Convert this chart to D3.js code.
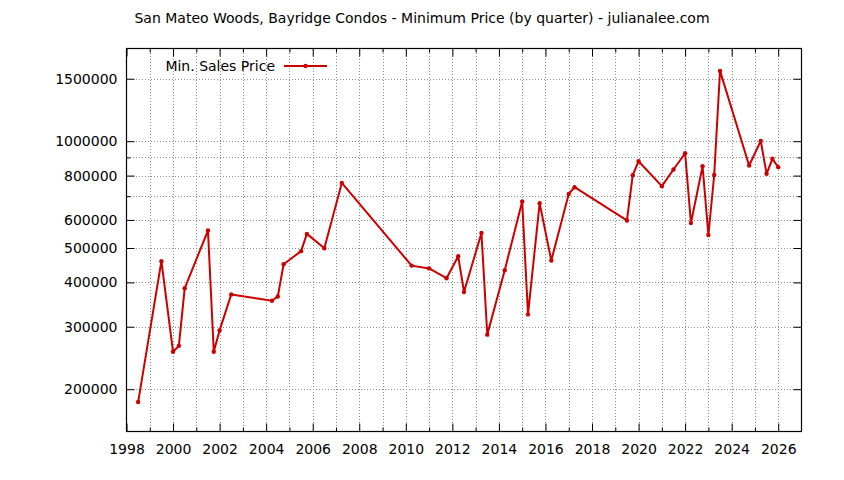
<!DOCTYPE html>
<html>
<head>
<meta charset="utf-8">
<script src="https://cdn.jsdelivr.net/npm/d3@7/dist/d3.min.js"></script>
<style>
  body { margin: 0; background: #fff; }
  text { font-family: "DejaVu Sans", sans-serif; fill: #000; }
</style>
</head>
<body>
<div id="chart"></div>
<script>
// quarter positions (decimal year) and the minimum sale price in that quarter
var quarters = [
  1998.5, 1999.5, 2000.0, 2000.25, 2000.5, 2001.5, 2001.75, 2002.0, 2002.5,
  2004.25, 2004.5, 2004.75, 2005.5, 2005.75, 2006.5, 2007.25,
  2010.25, 2011.0, 2011.75, 2012.25, 2012.5, 2013.25, 2013.5, 2014.25,
  2015.0, 2015.25, 2015.75, 2016.25, 2017.0, 2017.25,
  2019.5, 2019.75, 2020.0, 2021.0, 2021.5, 2022.0, 2022.25, 2022.75,
  2023.0, 2023.25, 2023.5, 2024.75, 2025.25, 2025.5, 2025.75, 2026.0
];
var minPrice = [
  184000, 459000, 255000, 265000, 385000, 560000, 255000, 293000, 370000,
  355000, 365000, 450000, 490000, 548000, 499000, 763000,
  446000, 438000, 411000, 474000, 376000, 551000, 285000, 433000,
  676000, 325000, 669000, 461000, 710000, 742000,
  598000, 802000, 878000, 747000, 832000, 925000, 588000, 850000,
  544000, 803000, 1578000, 854000, 1002000, 809000, 892000, 845000
];

var xLabelYears = [1998, 2000, 2002, 2004, 2006, 2008, 2010, 2012, 2014, 2016, 2018, 2020, 2022, 2024, 2026];
var xMinorYears = [1999, 2001, 2003, 2005, 2007, 2009, 2011, 2013, 2015, 2017, 2019, 2021, 2023, 2025];
var yLabelValues = [200000, 300000, 400000, 500000, 600000, 800000, 1000000, 1500000];
var yMinorValues = [700000, 900000];

var titleText = 'San Mateo Woods, Bayridge Condos - Minimum Price (by quarter) - julianalee.com';
var seriesName = 'Min. Sales Price';

var width = 844, height = 480;
var margin = { top: 48.5, right: 42.5, bottom: 48.5, left: 126.5 };
var red = '#cc0000';
var fontSize = '14px';

var svg = d3.select('#chart').append('svg')
  .attr('width', width)
  .attr('height', height)
  .style('display', 'block');

svg.append('rect').attr('width', width).attr('height', height).attr('fill', '#fff');

var x = d3.scaleLinear()
  .domain([1998, 2027])
  .range([margin.left, width - margin.right]);
var y = d3.scaleLog()
  .domain([152000, 1825000])
  .range([height - margin.bottom, margin.top]);

var x0 = margin.left, x1 = width - margin.right;
var y0 = height - margin.bottom, y1 = margin.top;

// grid
var grid = svg.append('g')
  .attr('stroke', '#8a8a8a')
  .attr('stroke-width', 1)
  .attr('stroke-dasharray', '1,2')
  .attr('shape-rendering', 'crispEdges');
grid.selectAll('.vgrid')
  .data(xLabelYears.concat(xMinorYears).filter(function (d) { return d > 1998; }))
  .enter().append('line')
  .attr('x1', function (d) { return Math.round(x(d)) + 0.5; })
  .attr('x2', function (d) { return Math.round(x(d)) + 0.5; })
  .attr('y1', y0)
  .attr('y2', y1);
grid.selectAll('.hgrid')
  .data(yLabelValues.concat(yMinorValues))
  .enter().append('line')
  .attr('y1', function (d) { return Math.round(y(d)) + 0.5; })
  .attr('y2', function (d) { return Math.round(y(d)) + 0.5; })
  .attr('x1', x0)
  .attr('x2', x1);

// axes, ticks pointing inward like gnuplot
function styleAxis(g) {
  g.select('.domain').remove();
  g.selectAll('.tick line').attr('stroke', '#000');
  g.selectAll('.tick text')
    .style('font-size', fontSize)
    .style('font-family', '"DejaVu Sans", sans-serif')
    .attr('fill', '#000');
}

svg.append('g')
  .attr('transform', 'translate(0,' + y0 + ')')
  .call(d3.axisBottom(x).tickValues(xLabelYears).tickFormat(d3.format('d'))
    .tickSizeInner(-8).tickSizeOuter(0).tickPadding(13))
  .call(styleAxis);
svg.append('g')
  .attr('transform', 'translate(0,' + y0 + ')')
  .call(d3.axisBottom(x).tickValues(xMinorYears).tickFormat('').tickSizeInner(-4).tickSizeOuter(0))
  .call(styleAxis);
svg.append('g')
  .attr('transform', 'translate(0,' + y1 + ')')
  .call(d3.axisTop(x).tickValues(xLabelYears).tickFormat('').tickSizeInner(-8).tickSizeOuter(0))
  .call(styleAxis);
svg.append('g')
  .attr('transform', 'translate(0,' + y1 + ')')
  .call(d3.axisTop(x).tickValues(xMinorYears).tickFormat('').tickSizeInner(-4).tickSizeOuter(0))
  .call(styleAxis);

svg.append('g')
  .attr('transform', 'translate(' + x0 + ',0)')
  .call(d3.axisLeft(y).tickValues(yLabelValues).tickFormat(d3.format('d'))
    .tickSizeInner(-8).tickSizeOuter(0).tickPadding(9))
  .call(styleAxis);
svg.append('g')
  .attr('transform', 'translate(' + x0 + ',0)')
  .call(d3.axisLeft(y).tickValues(yMinorValues).tickFormat('').tickSizeInner(-4).tickSizeOuter(0))
  .call(styleAxis);
svg.append('g')
  .attr('transform', 'translate(' + x1 + ',0)')
  .call(d3.axisRight(y).tickValues(yLabelValues).tickFormat('').tickSizeInner(-8).tickSizeOuter(0))
  .call(styleAxis);
svg.append('g')
  .attr('transform', 'translate(' + x1 + ',0)')
  .call(d3.axisRight(y).tickValues(yMinorValues).tickFormat('').tickSizeInner(-4).tickSizeOuter(0))
  .call(styleAxis);

// border
svg.append('rect')
  .attr('x', x0).attr('y', y1)
  .attr('width', x1 - x0).attr('height', y0 - y1)
  .attr('fill', 'none')
  .attr('stroke', '#000')
  .attr('stroke-width', 1.2);

// series
var points = quarters.map(function (q, i) { return { q: q, v: minPrice[i] }; });
var line = d3.line()
  .x(function (d) { return x(d.q); })
  .y(function (d) { return y(d.v); });

svg.append('path')
  .datum(points)
  .attr('d', line)
  .attr('fill', 'none')
  .attr('stroke', red)
  .attr('stroke-width', 2)
  .attr('stroke-linejoin', 'round');
svg.append('g').selectAll('circle')
  .data(points)
  .enter().append('circle')
  .attr('cx', function (d) { return x(d.q); })
  .attr('cy', function (d) { return y(d.v); })
  .attr('r', 2.2)
  .attr('fill', red);

// legend
var key = svg.append('g').attr('transform', 'translate(0,66)');
key.append('text')
  .attr('x', 275)
  .attr('dy', '0.35em')
  .attr('text-anchor', 'end')
  .style('font-size', fontSize)
  .text(seriesName);
key.append('line')
  .attr('x1', 284).attr('x2', 327)
  .attr('stroke', red).attr('stroke-width', 2);
key.append('circle')
  .attr('cx', 305.5).attr('r', 2.2).attr('fill', red);

// title
svg.append('text')
  .attr('x', width / 2)
  .attr('y', 18)
  .attr('dy', '0.35em')
  .attr('text-anchor', 'middle')
  .style('font-size', fontSize)
  .text(titleText);
</script>
</body>
</html>
